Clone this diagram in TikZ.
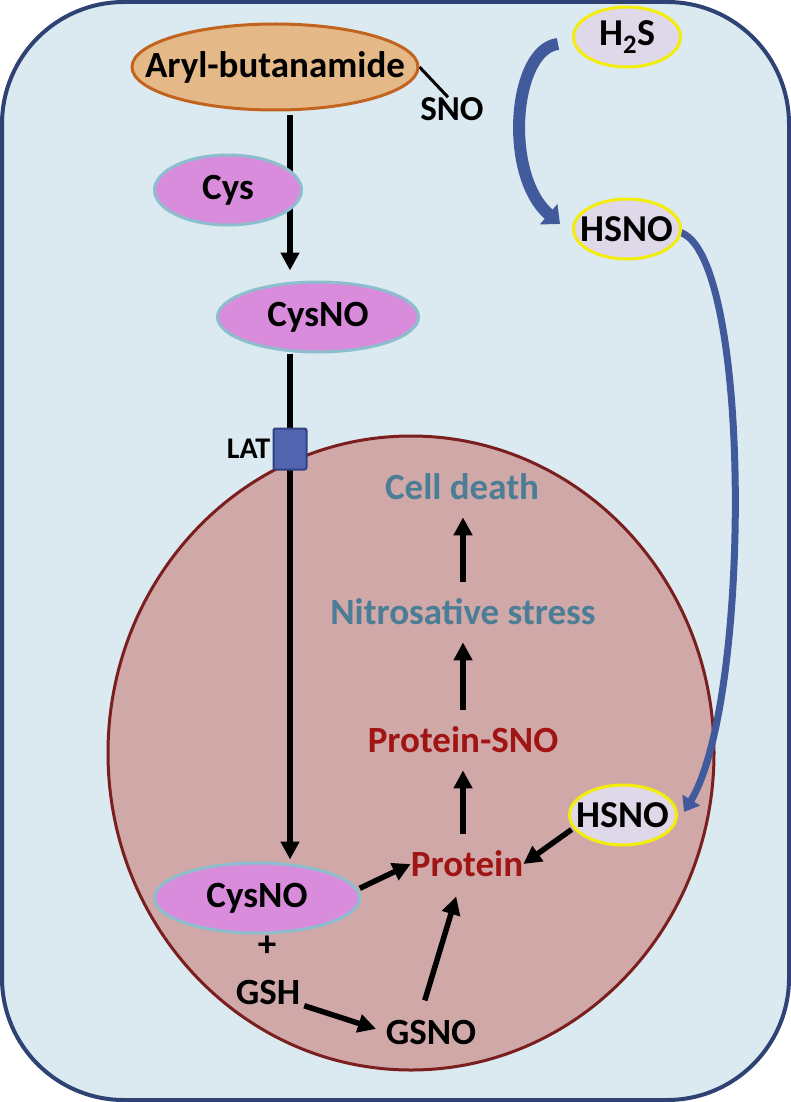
\documentclass[tikz,border=0pt]{standalone}
\usepackage{fontspec}
\setmainfont{Carlito}
\usepackage{tikz}
\usetikzlibrary{shapes.geometric,arrows.meta}

\definecolor{cellfill}{RGB}{219,233,241}
\definecolor{cellline}{RGB}{46,67,116}
\definecolor{nucfill}{RGB}{208,168,168}
\definecolor{nucline}{RGB}{122,30,30}
\definecolor{arylfill}{RGB}{228,185,135}
\definecolor{arylline}{RGB}{195,100,30}
\definecolor{cysfill}{RGB}{216,140,219}
\definecolor{cysline}{RGB}{140,190,205}
\definecolor{sulfill}{RGB}{222,216,232}
\definecolor{sulline}{RGB}{242,238,10}
\definecolor{latfill}{RGB}{80,100,175}
\definecolor{latline}{RGB}{50,65,130}
\definecolor{bluearrow}{RGB}{65,90,155}
\definecolor{protred}{RGB}{160,20,20}
\definecolor{stressblue}{RGB}{75,125,150}

\pgfdeclarelayer{back}
\pgfdeclarelayer{links}
\pgfsetlayers{back,links,main}

\begin{document}
\begin{tikzpicture}[x=1pt,y=-1pt,
    bold/.style ={font=\fontsize{37}{40}\selectfont\bfseries, inner sep=0pt},
    substrate/.style ={ellipse, draw=arylline, fill=arylfill, line width=3pt, inner xsep=-40pt, inner ysep=0pt,
        minimum width=286pt, minimum height=86pt, font=\fontsize{37}{40}\selectfont\bfseries},
    molecule/.style ={ellipse, draw=cysline, fill=cysfill, line width=3pt, inner xsep=-20pt, inner ysep=0pt,
        minimum height=70pt, font=\fontsize{37}{40}\selectfont\bfseries},
    sulfide/.style ={ellipse, draw=sulline, fill=sulfill, line width=3pt, inner xsep=-20pt, inner ysep=0pt,
        minimum width=107pt, minimum height=60pt, font=\fontsize{38}{40}\selectfont\bfseries},
    carrier/.style ={rectangle, rounded corners=2pt, draw=latline, fill=latfill, line width=2pt,
        minimum width=33pt, minimum height=41pt},
    flow/.style ={line width=5.5pt, -{Triangle[length=18pt,width=18pt]}},
    rise/.style ={flow, shorten <=17pt, shorten >=17pt},
    transfer/.style ={draw=bluearrow, line width=#1}]

   \useasboundingbox (0,0) rectangle (791,1102);

   \begin{pgfonlayer}{back}
   \draw[cellline, fill=cellfill, line width=4pt, rounded corners=122pt] (2,2) rectangle (789,1100);
   \draw[nucline, fill=nucfill, line width=3pt] (411,753) ellipse [x radius=303, y radius=317];
   \end{pgfonlayer}

   \node[substrate] (aryl)   at (275,67)  {Aryl-butanamide};
   \node[bold, font=\fontsize{35}{40}\selectfont\bfseries] (sno) at (452,109) {SNO};
   \node[molecule, minimum width=147pt] (cys)    at (228,190) {Cys};
   \node[molecule, minimum width=201pt] (cysno)  at (318,317) {CysNO};
   \node[carrier] (lat)      at (290,449) {};
   \node[bold, font=\fontsize{30}{32}\selectfont\bfseries, anchor=east] (latname) at ([xshift=-2pt]lat.west) {LAT};
   \node[molecule, minimum width=205pt] (cysnoin) at (257,898) {CysNO};
   \node[bold] (plus)        at (267,946) {+};
   \node[bold] (gsh)         at (268,992) {GSH};
   \node[bold] (gsno)        at (431,1032) {GSNO};
   \node[bold, text=protred] (protein) at (467,864) {Protein};
   \node[bold, text=protred] (psno)    at (463,740) {Protein-SNO};
   \node[bold, text=stressblue] (stress) at (463,612) {Nitrosative stress};
   \node[bold, text=stressblue] (death)  at (462,487) {Cell death};
   \node[sulfide] (h2s)      at (627,37)  {H\textsubscript{2}S};
   \node[sulfide] (hsno)     at (627,229) {HSNO};
   \node[sulfide] (hsnoin)   at (623,815) {HSNO};

   \begin{pgfonlayer}{links}
   \draw[line width=3pt] (aryl.east) -- ([xshift=-4pt]sno.north);
   \draw[flow, shorten <=4pt, shorten >=10pt] (aryl.south -| lat) -- (cysno.north -| lat);
   \draw[flow, shorten >=2pt] (cysno.south -| lat) -- (cysnoin.north -| lat);
   \draw[flow, shorten <=2pt] (cysnoin.5) -- (protein.west);
   \draw[flow, shorten <=4pt, shorten >=10pt] (gsh.south east) -- (gsno.west);
   \draw[flow, shorten <=20pt, shorten >=20pt] ([xshift=-12pt]gsno.north) -- ([xshift=-5pt]protein.south);
   \draw[flow, shorten <=2pt] (hsnoin.195) -- (protein.east);
   \draw[rise] (protein.north -| psno) -- (psno.south);
   \draw[rise] (psno.north) -- (stress.south -| psno);
   \draw[rise] (stress.north -| psno) -- (death.south -| psno);

   \draw[transfer=12pt, -{Triangle[length=15pt,width=26pt]}]
       ([shift={(-14,7)}]h2s.west) .. controls +(-45,5) and +(-57,-49) .. ([shift={(-12,-5)}]hsno.west);
   \draw[transfer=7pt, -{Triangle[length=14pt,width=20pt]}]
       ([shift={(-3,3)}]hsno.east) .. controls (752,250) and (752,700) .. ([shift={(6,-3)}]hsnoin.east);
   \end{pgfonlayer}
 \end{tikzpicture}
\end{document}
